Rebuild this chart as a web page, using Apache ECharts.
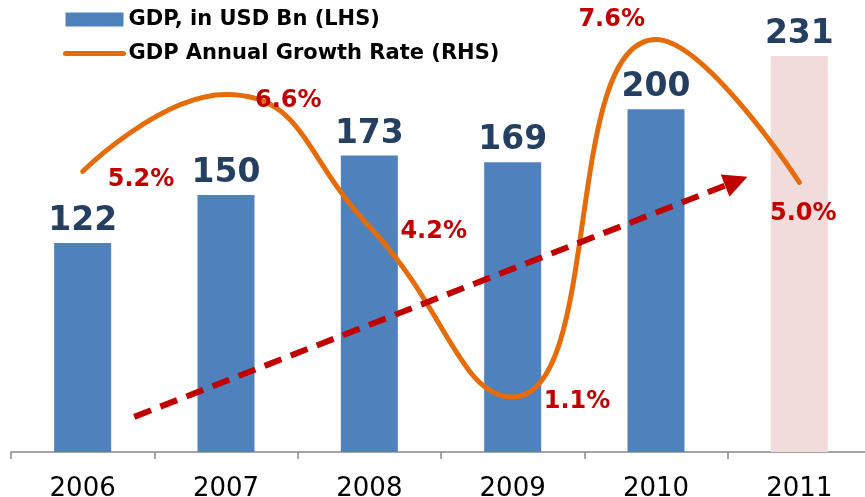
<!DOCTYPE html>
<html>
<head>
<meta charset="utf-8">
<script src="https://cdn.jsdelivr.net/npm/echarts@6/dist/echarts.min.js"></script>
<style>
  html, body { margin: 0; padding: 0; background: #fff; }
  #chart { width: 865px; height: 497px; }
</style>
</head>
<body>
<div id="chart"></div>
<script>
// data
var years = ['2006', '2007', '2008', '2009', '2010', '2011'];
var gdpValues = [122, 150, 173, 169, 200, 231];
var growthRates = [5.2, 6.6, 4.2, 1.1, 7.6, 5.0];
// dashed trend arrow, [category position, GDP value]
var trendStart = [0.36, 20.5];
var trendEnd = [4.56, 158];

var FONT = 'DejaVu Sans';
var barColor = '#4F81BD';
var forecastColor = '#F2DCDB';
var lineColor = '#E46C0A';

// where each growth label sits relative to its point
var growthLabelPos = [
  { position: 'right', offset: [20, 8] },
  { position: 'right', offset: [24, 6] },
  { position: 'right', offset: [26, 5] },
  { position: 'right', offset: [26, 5] },
  { position: 'left', offset: [-6, -20] },
  { position: 'bottom', offset: [4, 14] }
];

var chart = echarts.init(document.getElementById('chart'));

var barData = gdpValues.map(function (v, i) {
  var item = { value: v };
  if (i === gdpValues.length - 1) {
    item.itemStyle = { color: forecastColor };
  }
  return item;
});

var lineData = growthRates.map(function (v, i) {
  return {
    value: v,
    label: {
      position: growthLabelPos[i].position,
      offset: growthLabelPos[i].offset
    }
  };
});

var option = {
  animation: false,
  backgroundColor: '#ffffff',
  textStyle: { fontFamily: FONT },
  legend: {
    orient: 'vertical',
    left: 63,
    top: 9,
    padding: 0,
    itemWidth: 58,
    itemHeight: 14,
    itemGap: 13,
    textStyle: {
      fontFamily: FONT,
      fontWeight: 'bold',
      fontSize: 21,
      color: '#000'
    },
    data: [
      { name: 'GDP, in USD Bn (LHS)', icon: 'rect' },
      {
        name: 'GDP Annual Growth Rate (RHS)',
        itemStyle: { opacity: 0 },
        lineStyle: { width: 5, color: lineColor, cap: 'round' }
      }
    ]
  },
  grid: {
    left: 11,
    width: 860,
    top: 6.4,
    bottom: 45,
    containLabel: false,
    outerBoundsMode: 'none'
  },
  xAxis: [
    {
      type: 'category',
      data: years,
      axisLine: { lineStyle: { color: '#888888', width: 1.5 } },
      axisTick: { show: true, length: 7, lineStyle: { color: '#888888', width: 1.5 } },
      axisLabel: {
        fontFamily: FONT,
        fontSize: 26,
        color: '#000',
        margin: 24
      }
    },
    {
      type: 'value',
      min: -0.5,
      max: 5.5,
      show: false
    }
  ],
  yAxis: [
    {
      type: 'value',
      min: 0,
      max: 260,
      show: false,
      splitLine: { show: false }
    },
    {
      type: 'value',
      min: 0.1,
      max: 8.2,
      show: false,
      splitLine: { show: false }
    }
  ],
  series: [
    {
      name: 'GDP, in USD Bn (LHS)',
      type: 'bar',
      barWidth: 57,
      itemStyle: { color: barColor },
      label: {
        show: true,
        position: 'top',
        distance: 5,
        fontFamily: FONT,
        fontWeight: 'bold',
        fontSize: 33,
        color: '#243F60'
      },
      data: barData,
      z: 2
    },
    {
      name: 'trend',
      type: 'line',
      xAxisIndex: 1,
      yAxisIndex: 0,
      data: [],
      silent: true,
      markLine: {
        silent: true,
        symbol: ['none', 'triangle'],
        symbolSize: 24,
        label: { show: false },
        lineStyle: {
          color: '#C00000',
          width: 6,
          type: [18, 10]
        },
        data: [[{ coord: trendStart }, { coord: trendEnd }]]
      },
      z: 3
    },
    {
      name: 'GDP Annual Growth Rate (RHS)',
      type: 'line',
      yAxisIndex: 1,
      smooth: 0.5,
      showSymbol: true,
      symbol: 'circle',
      symbolSize: 0.1,
      lineStyle: { color: lineColor, width: 5, cap: 'round' },
      itemStyle: { color: lineColor },
      label: {
        show: true,
        fontFamily: FONT,
        fontWeight: 'bold',
        fontSize: 24,
        color: '#C00000',
        formatter: function (p) { return p.value.toFixed(1) + '%'; }
      },
      data: lineData,
      z: 4
    }
  ]
};

chart.setOption(option);
</script>
</body>
</html>
